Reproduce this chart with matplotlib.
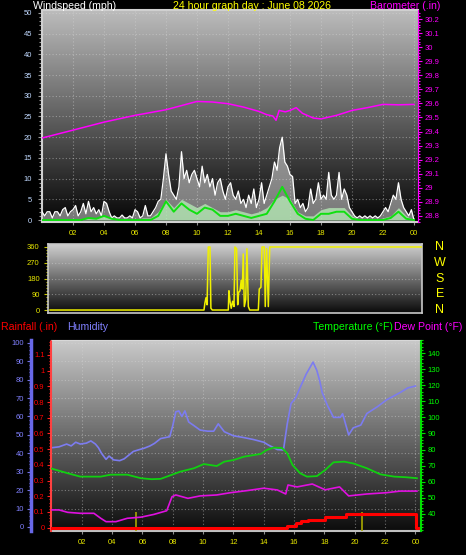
import numpy as np
import matplotlib
matplotlib.use('Agg')
import matplotlib.pyplot as plt
import matplotlib.transforms as mtransforms
from matplotlib.colors import LinearSegmentedColormap

plt.rcParams['font.family'] = ['Liberation Sans', 'DejaVu Sans']

# ---------------- data ----------------
title = "24 hour graph day : June 08 2026"
hour_ticks = [2, 4, 6, 8, 10, 12, 14, 16, 18, 20, 22, 24]
hour_labels = ['02', '04', '06', '08', '10', '12', '14', '16', '18', '20', '22', '00']

# wind gust (mph), one value every 10 minutes
gust = [2, 1, 2, 2, 0.5, 2,
        2, 1, 2.5, 3, 1, 2,
        2.5, 3.5, 1, 2, 4, 1.5,
        4.5, 2, 3, 1.5, 2.5, 1,
        4.5, 4, 2, 0.5, 1, 0.5,
        0.5, 1.2, 0.5, 0.5, 1, 0.5,
        2.5, 2, 0.5, 1, 3.5, 1,
        1, 2, 3, 4.5, 5, 10,
        16, 11, 7, 6, 5, 8,
        16.5, 10, 12, 9, 11, 12,
        10, 8, 13, 9, 11, 8,
        10, 6, 9, 10, 7, 5,
        8, 9, 6, 5, 7, 4,
        5, 3, 6, 4, 7.5, 3,
        5, 9, 4, 6, 8, 10,
        14, 12, 17.5, 20, 14, 13,
        11, 10.5, 4, 5, 3, 4,
        2, 3, 7.5, 4, 5, 9,
        5, 6, 5, 11.5, 6, 5,
        6, 11.5, 5, 7.5, 6, 3,
        2, 1, 0.5, 1, 0.5, 1,
        0.5, 1, 0.5, 1, 0.5, 1,
        2, 3, 2, 4, 6, 5,
        9, 5, 3, 2, 1, 2.5,
        0]
gust_hours = np.arange(len(gust)) / 6.0

# wind speed (pale fill) and average (green line), every 30 minutes
speed = [0, 0, 0, 0, 0, 0, 0.5, 0.5, 1, 0.5, 0, 0, 0, 0.5, 0.5, 2, 5, 3, 5, 4,
         3, 4, 3, 2, 2, 2.5, 2, 1.5, 2, 3, 5, 6, 5, 2, 1, 1, 2.5, 3, 3, 3,
         1, 0, 0, 0, 0.5, 1, 3, 1, 0]
avg = [0, 0, 0, 0, 0, 0, 0.5, 0.3, 1, 0.3, 0, 0, 0, 0, 0, 1, 4.5, 2, 4, 2.5,
       1.5, 3, 2.5, 1, 1, 1.5, 1, 0.5, 1, 1.5, 4.5, 8, 4.5, 1.5, 0.3, 0, 1.5, 1.5, 2, 2,
       0.3, 0, 0, 0, 0, 0.5, 2, 0.3, 0]
half_hours = np.arange(len(speed)) / 2.0

# barometer (inHg)
baro_hours = [0, 2, 4, 6, 8, 10, 11, 12, 13, 14, 14.5, 14.9, 15.1, 15.3, 15.7, 16.0,
              16.4, 16.8, 17.5, 18, 19, 20, 21, 22, 23, 24]
baro = [29.354, 29.41, 29.467, 29.515, 29.555, 29.614, 29.61, 29.598, 29.574, 29.543,
        29.52, 29.51, 29.48, 29.55, 29.54, 29.55, 29.57, 29.53, 29.496, 29.49, 29.515,
        29.55, 29.57, 29.593, 29.59, 29.593]

# wind direction (degrees)
dir_hours = [0, 10.0, 10.06, 10.13, 10.2, 10.28, 10.39, 10.45, 10.54, 11.58, 11.62, 11.69,
             11.77, 11.86, 11.95, 12.01, 12.12, 12.19, 12.25, 12.34, 12.42, 12.49, 12.55,
             12.62, 12.71, 12.79, 12.88, 12.97, 13.53, 13.59, 13.7, 13.77, 13.92, 13.98,
             14.07, 14.18, 14.27, 24.2]
direction = [0, 0, 40, 70, 30, 360, 360, 10, 0, 0, 110, 50,
             10, 50, 20, 360, 350, 30, 100, 110, 170, 120, 320,
             20, 60, 350, 20, 0, 0, 120, 130, 360, 360, 20,
             350, 20, 360, 360]
compass = ['N', 'E', 'S', 'W', 'N']
compass_deg = [0, 90, 180, 270, 360]

# humidity (%)
hum_hours = [0.0, 0.5, 1.0, 1.3, 1.6, 1.9, 2.3, 2.6, 2.9, 3.1, 3.3, 3.6, 3.8, 4.1, 4.5,
             4.8, 5.1, 5.4, 5.8, 6.1, 6.5, 6.8, 7.2, 7.5, 7.8, 8.0, 8.2, 8.4, 8.6, 8.8,
             9.05, 9.4, 9.8, 10.3, 10.7, 11.0, 11.4, 12.0, 12.7, 13.3, 14.0, 14.3, 14.9,
             15.3, 15.55, 15.8, 16.1, 16.4, 16.8, 17.25, 17.5, 17.7, 17.85, 18.2, 18.6,
             19.05, 19.2, 19.6, 19.9, 20.4, 20.8, 21.5, 22.1, 23.0, 23.5, 24.0]
humidity = [43, 43.5, 45, 44, 46, 45, 45.5, 46.7, 45, 43, 40, 36.7, 38.5, 36.4, 36,
            37, 39, 41, 42, 42.7, 44, 45.4, 48, 48.5, 49, 55, 62.5, 63, 60, 63,
            57, 55, 52.6, 52, 52, 56, 51.7, 49.5, 48.5, 47.5, 46, 44.5, 42,
            41.8, 56, 67, 70, 75.7, 83, 89.5, 85, 79, 73, 66, 59.5,
            59.5, 61.5, 50, 53.8, 55.3, 61.6, 65.3, 69, 73, 75.5, 76.5]

# temperature and dew point (F)
temp_hours = [0.0, 1.07, 1.9, 3.25, 3.9, 5.0, 5.9, 6.6, 7.2, 7.9, 8.5, 9.4, 10.05, 10.9,
              11.4, 12.0, 12.7, 13.8, 14.2, 14.65, 15.2, 15.55, 15.9, 16.4, 16.85, 17.5,
              18.05, 18.6, 19.3, 19.9, 20.8, 21.7, 22.6, 23.4, 24.1]
temperature = [68.2, 65.3, 63.2, 63.2, 64.4, 64.4, 62.2, 61.6, 61.8, 64.2, 66.3, 68.4, 71,
               69.8, 72.5, 73.5, 75.6, 77.3, 79.8, 81.2, 81, 77.7, 70.4, 65.3, 63.2, 63.5,
               67.3, 72.1, 72.5, 71.4, 68.4, 64.6, 63.2, 62.8, 62.2]
dew_hours = [0.0, 0.5, 1.07, 1.9, 2.8, 3.25, 3.6, 4.25, 5.0, 5.9, 6.75, 7.6, 7.95, 8.2,
             9.0, 9.8, 10.9, 11.8, 12.9, 14.0, 14.9, 15.45, 15.6, 16.2, 17.2, 18.05,
             19.0, 19.6, 20.8, 22.1, 23.0, 24.1]
dewpoint = [42.5, 42.5, 41, 40.4, 40.4, 37.3, 35.2, 35.2, 37.3, 38, 39.7, 42, 50.7, 51.8,
            49.7, 51.2, 51.8, 53.2, 54.5, 56, 54.9, 52.4, 58, 56.8, 58.6, 55,
            56.8, 51.2, 52.4, 53.2, 54.2, 54.2]

# rainfall (in), cumulative steps
rain_hours = [0, 15.55, 16.1, 16.45, 16.9, 18.05, 19.45, 24.05, 24.3]
rain = [0, 0.01, 0.028, 0.04, 0.05, 0.068, 0.085, 0, 0]
marker_hours = [5.55, 20.5]

# ---------------- figure ----------------
W, H = 466, 555
fig = plt.figure(figsize=(W / 100, H / 100), dpi=100, facecolor='black')


def rect(x0, y0, x1, y1):
    return [x0 / W, 1 - y1 / H, (x1 - x0) / W, (y1 - y0) / H]


def gradient(ax, top, bottom):
    cmap = LinearSegmentedColormap.from_list('g', [bottom, top])
    grad = np.linspace(0, 1, 256).reshape(-1, 1)
    ax.imshow(grad, extent=[0, 1, 0, 1], transform=ax.transAxes, cmap=cmap,
              aspect='auto', origin='lower', zorder=0, interpolation='bilinear')


GRID = dict(color='#d8d8d8', alpha=0.45, lw=0.8, ls=(0, (1, 2)))
TICKFS = 5.5
HEADFS = 7.6

# ---- top panel: wind speed + barometer ----
ax_w = fig.add_axes(rect(42, 10, 418, 222))
gradient(ax_w, '#bcbcbc', '#060606')
ax_w.set_xlim(0, 24.26)
ax_w.set_ylim(-0.48, 50.72)
for v in range(5, 51, 5):
    ax_w.axhline(v, zorder=1, **GRID)
for h in hour_ticks:
    ax_w.axvline(h, zorder=1, **GRID)
ax_w.fill_between(gust_hours, 0, gust, color='#e8e8e8', alpha=0.5, lw=0, zorder=2)
ax_w.plot(gust_hours, gust, color='white', lw=0.9, zorder=3)
ax_w.fill_between(half_hours, 0, speed, color='#b8f0b8', alpha=0.75, lw=0, zorder=4)
ax_w.plot(half_hours, avg, color='#10e010', lw=1.4, zorder=5)
ax_w.set_yticks(range(0, 51, 5))
ax_w.set_yticks(range(0, 51, 1), minor=True)
ax_w.tick_params(axis='y', which='both', colors='#9a9a9a', labelcolor='#c0d8ff',
                 labelsize=TICKFS, length=3, width=0.8, pad=4)
ax_w.tick_params(axis='y', which='minor', length=2)
ax_w.set_xticks(hour_ticks)
ax_w.set_xticklabels(hour_labels)
ax_w.tick_params(axis='x', colors='#909090', labelcolor='#e8e800', labelsize=TICKFS,
                 length=2, pad=4)
for s in ['left', 'bottom', 'top']:
    ax_w.spines[s].set_color('#d0d0d0')
    ax_w.spines[s].set_linewidth(1.5)
ax_w.spines['right'].set_visible(False)

ax_p = ax_w.twinx()
ax_p.set_ylim(28.757, 30.264)
ax_p.plot(baro_hours, baro, color='#ff00ff', lw=1.1, zorder=6)
bt = np.round(np.arange(28.8, 30.21, 0.1), 1)
ax_p.set_yticks(bt)
ax_p.set_yticklabels([f'{v:g}' for v in bt])
ax_p.set_yticks(np.arange(28.76, 30.26, 0.02), minor=True)
ax_p.tick_params(axis='y', which='both', colors='#ff00ff', labelcolor='#ff00ff',
                 labelsize=TICKFS, length=3, width=0.8, pad=2)
ax_p.tick_params(axis='y', which='minor', length=1.5)
ax_p.spines['right'].set_color('#ff00ff')
ax_p.spines['right'].set_linestyle((0, (1, 1)))
for s in ['left', 'bottom', 'top']:
    ax_p.spines[s].set_visible(False)

fig.text(33 / W, 1 - 6 / H, 'Windspeed (mph)', color='white', fontsize=HEADFS, va='center')
fig.text(252 / W, 1 - 6 / H, title, color='#ffff00', fontsize=HEADFS, va='center', ha='center')
fig.text(440 / W, 1 - 6 / H, 'Barometer (.in)', color='#ff00ff', fontsize=HEADFS,
         va='center', ha='right')

# ---- middle panel: wind direction ----
ax_d = fig.add_axes(rect(48, 244, 422, 313))
gradient(ax_d, '#d0d0d0', '#0a0a0a')
ax_d.set_xlim(-0.13, 24.16)
ax_d.set_ylim(-17, 377)
for v in [90, 180, 270]:
    ax_d.axhline(v, zorder=1, **GRID)
ax_d.plot(dir_hours, direction, color='#f0f000', lw=1.1, zorder=3)
ax_d.set_xticks([])
ax_d.set_yticks([0, 90, 180, 270, 360])
ax_d.set_yticks(range(0, 361, 18), minor=True)
ax_d.tick_params(axis='y', which='both', colors='#c8c800', labelcolor='#e8e800',
                 labelsize=TICKFS, length=3, width=0.8, pad=3)
ax_d.tick_params(axis='y', which='minor', length=1.5)
for s in ['left', 'bottom', 'top', 'right']:
    ax_d.spines[s].set_color('#c8c8c8')
    ax_d.spines[s].set_linewidth(1.2)
trans = mtransforms.blended_transform_factory(ax_d.transAxes, ax_d.transData)
for lab, deg in zip(compass, compass_deg):
    ax_d.text(1.048, deg, lab, transform=trans, color='#ffff00', fontsize=9,
              ha='center', va='center', clip_on=False)

# ---- bottom panel: humidity, rainfall, temperature, dew point ----
ax_b = fig.add_axes(rect(51, 340, 421, 531))
gradient(ax_b, '#cacaca', '#0c0c0c')
ax_b.set_xlim(-0.03, 24.37)
ax_b.set_ylim(-2.2, 101.5)
for v in range(10, 101, 10):
    ax_b.axhline(v, zorder=1, **GRID)
for h in hour_ticks:
    ax_b.axvline(h, zorder=1, **GRID)
ax_b.plot(hum_hours, humidity, color='#7c7cf0', lw=1.2, zorder=3)
ax_b.set_yticks(range(0, 101, 10))
ax_b.set_yticks(range(0, 101, 2), minor=True)
ax_b.tick_params(axis='y', which='both', colors='#7070e0', labelcolor='#8080ff',
                 labelsize=TICKFS, length=3, width=0.8, pad=2)
ax_b.tick_params(axis='y', which='minor', length=1.5)
ax_b.spines['left'].set_position(('outward', 14.5))
ax_b.spines['left'].set_color('#6868e8')
ax_b.spines['left'].set_linewidth(2.5)
ax_b.set_xticks(hour_ticks)
ax_b.set_xticklabels(hour_labels)
ax_b.tick_params(axis='x', colors='#909090', labelcolor='#e8e800', labelsize=TICKFS,
                 length=2, pad=4)
ax_b.spines['bottom'].set_color('#c0c0c0')
ax_b.spines['bottom'].set_linewidth(1.5)
ax_b.spines['top'].set_color('#d8d8d8')
ax_b.spines['right'].set_visible(False)

ax_r = ax_b.twinx()
ax_r.set_ylim(-0.021, 1.195)
ax_r.yaxis.tick_left()
ax_r.yaxis.set_label_position('left')
ax_r.vlines(marker_hours, -0.021, 0.1, color='#a8a800', lw=1.2, zorder=4)
ax_r.plot(rain_hours, rain, color='#ff0000', lw=2.2, drawstyle='steps-post', zorder=5)
rt = np.round(np.arange(0, 1.11, 0.1), 1)
ax_r.set_yticks(rt)
ax_r.set_yticklabels([f'{v:g}' for v in rt])
ax_r.set_yticks(np.arange(0, 1.2, 0.02), minor=True)
ax_r.tick_params(axis='y', which='both', colors='#ff2020', labelcolor='#ff0000',
                 labelsize=TICKFS, length=3, width=0.8, pad=1.5)
ax_r.tick_params(axis='y', which='minor', length=1.5)
ax_r.spines['left'].set_color('#ff4040')
ax_r.spines['left'].set_linestyle((0, (1, 1)))
ax_r.spines['left'].set_linewidth(1.5)
for s in ['right', 'bottom', 'top']:
    ax_r.spines[s].set_visible(False)

ax_t = ax_b.twinx()
ax_t.set_ylim(29.4, 148.1)
ax_t.plot(temp_hours, temperature, color='#10d010', lw=1.3, zorder=5)
ax_t.plot(dew_hours, dewpoint, color='#e010e0', lw=1.2, zorder=5)
ax_t.set_yticks(range(40, 141, 10))
ax_t.set_yticks(range(30, 149, 2), minor=True)
ax_t.tick_params(axis='y', which='both', colors='#00e000', labelcolor='#00ff00',
                 labelsize=TICKFS, length=3, width=0.8, pad=2)
ax_t.tick_params(axis='y', which='minor', length=1.5)
ax_t.spines['right'].set_color('#00e000')
ax_t.spines['right'].set_linestyle((0, (1, 1)))
ax_t.spines['right'].set_linewidth(1.5)
for s in ['left', 'bottom', 'top']:
    ax_t.spines[s].set_visible(False)

fig.text(1 / W, 1 - 327 / H, 'Rainfall (.in)', color='#ff0000', fontsize=HEADFS, va='center')
fig.text(67 / W, 1 - 327 / H, 'Humidity', color='#8080ff', fontsize=HEADFS, va='center')
fig.text(313 / W, 1 - 327 / H, 'Temperature (°F)', color='#00ff00', fontsize=HEADFS, va='center')
fig.text(394 / W, 1 - 327 / H, 'Dew Point (°F)', color='#ff00ff', fontsize=HEADFS, va='center')

fig.savefig('out.png', dpi=100, facecolor='black')
